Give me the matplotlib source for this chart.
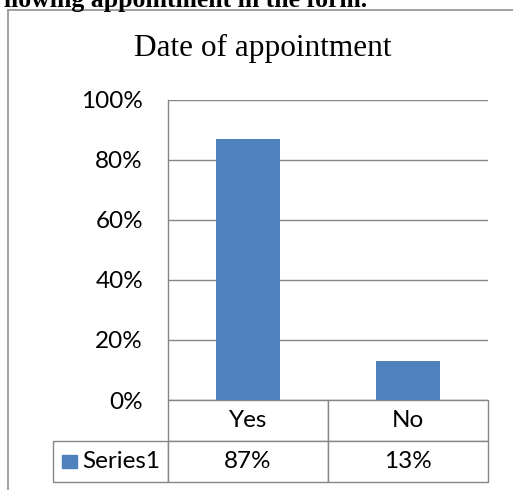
import matplotlib.pyplot as plt
from matplotlib.lines import Line2D
from matplotlib.patches import Rectangle
from matplotlib.table import Table
from matplotlib.ticker import PercentFormatter

categories = ["Yes", "No"]
values = [0.87, 0.13]
series_name = "Series1"
value_labels = ["87%", "13%"]

bar_color = "#4F81BD"
grid_color = "#868686"
sans = "Lato"
serif = "Liberation Serif"
label_size = 17.5

fig = plt.figure(figsize=(5.13, 4.90), dpi=100)

# frame around the chart object (right and bottom edges fall off the page)
fig.add_artist(Line2D([8 / 513, 1.0], [1 - 10 / 490] * 2, color="#9a9a9a", lw=1.3))
fig.add_artist(Line2D([8 / 513] * 2, [0.0, 1 - 10 / 490], color="#9a9a9a", lw=1.3))

# tail of the caption line above the chart
fig.text(367 / 513, 1 - 7 / 490, "llowing appointment in the form.", ha="right",
         va="baseline", family=serif, weight="bold", fontsize=18.5)

fig.text(263 / 513, 1 - 56 / 490, "Date of appointment", ha="center",
         va="baseline", family=serif, fontsize=22.5)

ax = fig.add_axes([168 / 513, 90 / 490, 320 / 513, 300 / 490])
x = range(len(categories))
ax.bar(x, values, width=0.4, color=bar_color, zorder=2)
ax.set_xlim(-0.5, len(categories) - 0.5)
ax.set_ylim(0, 1)
ax.set_yticks([0, 0.2, 0.4, 0.6, 0.8, 1.0])
ax.yaxis.set_major_formatter(PercentFormatter(1.0, decimals=0))
ax.set_xticks([])
ax.tick_params(axis="y", length=0, pad=18, labelsize=label_size)
for lab in ax.get_yticklabels():
    lab.set_family(sans)
ax.yaxis.grid(True, color=grid_color, lw=1.0, zorder=0)
for side in ["top", "right", "bottom"]:
    ax.spines[side].set_visible(False)
ax.spines["left"].set_color(grid_color)
ax.spines["left"].set_linewidth(1.0)

# data table under the plot: header row with categories, one row of values
# (sizes in axes fractions; bbox covers only the category columns)
label_w, col_w, row_h = 115 / 320, 1 / len(categories), 41 / 300
tbl = Table(ax, bbox=[0, -2 * row_h, 1, 2 * row_h])
tbl.auto_set_font_size(False)
tbl.add_cell(0, -1, width=label_w, height=row_h, text="")
tbl[0, -1].visible_edges = ""
tbl.add_cell(1, -1, width=label_w, height=row_h, text="")
for j, cat in enumerate(categories):
    tbl.add_cell(0, j, width=col_w, height=row_h, text=cat, loc="center")
    tbl.add_cell(1, j, width=col_w, height=row_h, text=value_labels[j], loc="center")
for cell in tbl.get_celld().values():
    cell.set_edgecolor(grid_color)
    cell.set_linewidth(1.0)
    cell.get_text().set_fontfamily(sans)
    cell.get_text().set_fontsize(label_size)
ax.add_table(tbl)

# legend key inside the row label cell
ax.add_patch(Rectangle((-106 / 320, -68 / 300), 15 / 320, 13 / 300,
                       transform=ax.transAxes, color=bar_color, clip_on=False))
ax.text(-86 / 320, -61 / 300, series_name, transform=ax.transAxes, ha="left",
        va="center", family=sans, fontsize=label_size)

fig.savefig("out.png", dpi=100)
